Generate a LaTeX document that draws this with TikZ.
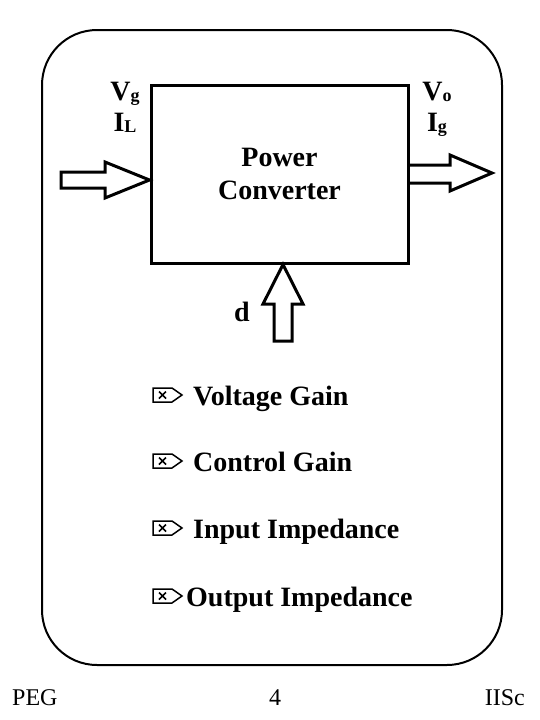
\documentclass[tikz,border=0pt]{standalone}
\usepackage{fontspec}
\setmainfont{Liberation Serif}
\newcommand{\lowidx}[1]{\raisebox{-1pt}{\fontsize{18}{18}\selectfont #1}}

\begin{document}
\begin{tikzpicture}[yscale=-1
,framestyle/.style={line width=2pt,rounded corners=55pt}
,boxstyle/.style={draw,line width=3pt,minimum width=257pt,minimum height=178pt,inner sep=0pt,align=center,font=\bfseries\fontsize{28}{33}\selectfont}
,arrowstyle/.style={line width=3pt,line join=miter}
,labelstyle/.style={font=\bfseries\fontsize{28}{33}\selectfont,inner sep=0pt}
,markstyle/.style={line width=1.5pt}
,footstyle/.style={font=\fontsize{24}{28}\selectfont,inner sep=0pt}
]
\useasboundingbox (0pt,0pt) rectangle (540pt,720pt);
\draw[framestyle] (42pt,30pt) rectangle (502pt,665pt);
\node[boxstyle] (conv) at (279.5pt,174pt) {Power\\Converter};
% input, output and control arrows
\draw[arrowstyle] (61pt,172pt) -- (105pt,172pt) -- (105pt,162pt) -- (conv.west |- 0,180pt) -- (105pt,198pt) -- (105pt,188pt) -- (61pt,188pt) -- cycle;
\draw[arrowstyle] (conv.east |- 0,165pt) -- (450pt,165pt) -- (450pt,155pt) -- (492pt,173pt) -- (450pt,191pt) -- (450pt,183pt) -- (conv.east |- 0,183pt);
\draw[arrowstyle] (conv.south -| 283pt,0) -- (303pt,304pt) -- (292pt,304pt) -- (292pt,341pt) -- (274pt,341pt) -- (274pt,304pt) -- (263pt,304pt) -- cycle;
\node[labelstyle,anchor=base] (vg) at (125pt,100pt) {V\lowidx{g}};
\node[labelstyle,anchor=base] (il) at (125pt,131pt) {I\lowidx{L}};
\node[labelstyle,anchor=base] (vo) at (437pt,100pt) {V\lowidx{o}};
\node[labelstyle,anchor=base] (ig) at (437pt,131pt) {I\lowidx{g}};
\node[labelstyle,anchor=base] (d) at (242pt,321pt) {d};
% list of transfer functions
\foreach \c/\x/\t [count=\i] in {395/193/Voltage Gain,461/193/Control Gain,528/193/Input Impedance,596/186/Output Impedance}{
  \draw[markstyle] (153pt,\c pt-7pt) -- (172pt,\c pt-7pt) -- (182pt,\c pt) -- (172pt,\c pt+7pt) -- (153pt,\c pt+7pt) -- cycle;
  \draw[markstyle] (159pt,\c pt-3.5pt) -- (166pt,\c pt+3.5pt) (159pt,\c pt+3.5pt) -- (166pt,\c pt-3.5pt);
  \node[labelstyle,anchor=base west] (item\i) at (\x pt,\c pt+10pt) {\t};
}
% footer
\node[footstyle,anchor=base west] (peg) at (12pt,705pt) {PEG};
\node[footstyle,anchor=base] (page) at (275pt,705pt) {4};
\node[footstyle,anchor=base east] (iisc) at (525pt,705pt) {IISc};
\end{tikzpicture}
\end{document}
